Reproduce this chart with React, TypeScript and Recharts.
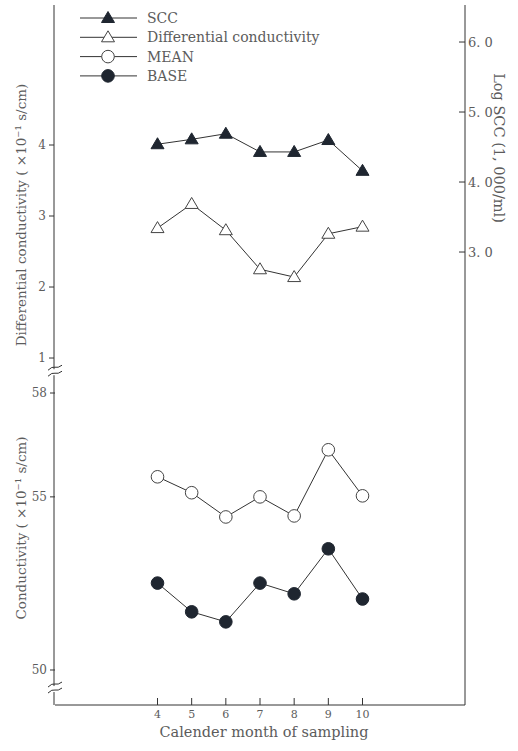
import React from "react";
import {
  ComposedChart,
  Line,
  XAxis,
  YAxis,
  Legend,
  Label,
  ReferenceDot,
} from "recharts";

const months = [4, 5, 6, 7, 8, 9, 10];
const sccLog = [4.54, 4.61, 4.69, 4.43, 4.43, 4.6, 4.16];
const diffCond = [2.83, 3.17, 2.8, 2.25, 2.14, 2.75, 2.85];
const meanCond = [55.58, 55.12, 54.42, 55.0, 54.45, 56.36, 55.03];
const baseCond = [52.51, 51.68, 51.39, 52.51, 52.2, 53.5, 52.05];

const diffTicks = [1, 2, 3, 4];
const condTicks = [50, 55, 58];
const sccTicks = [3, 4, 5, 6];
const axisBreaks = [58.6, 49.45];
const legendOrder = ["scc", "diff", "mean", "base"];

const rows = months.map((m, i) => ({
  month: m,
  scc: sccLog[i],
  diff: diffCond[i],
  mean: meanCond[i],
  base: baseCond[i],
}));

const SERIF = "'DejaVu Serif', serif";
const TEXT = "#5c5c5c";
const INK = "#333";
const DARK = "#1f2630";

type Marker = "triFill" | "triOpen" | "circOpen" | "circFill";

const markerOf: Record<string, Marker> = {
  scc: "triFill",
  diff: "triOpen",
  mean: "circOpen",
  base: "circFill",
};

function drawMarker(kind: Marker, cx: number, cy: number, key?: string | number) {
  if (kind === "triFill" || kind === "triOpen") {
    return (
      <path
        key={key}
        d={`M${cx},${cy - 6.5} L${cx + 6.5},${cy + 4.5} L${cx - 6.5},${cy + 4.5} Z`}
        fill={kind === "triFill" ? DARK : "#fff"}
        stroke={kind === "triFill" ? DARK : "#444"}
        strokeWidth={1}
      />
    );
  }
  return (
    <circle
      key={key}
      cx={cx}
      cy={cy}
      r={6.3}
      fill={kind === "circFill" ? DARK : "#fff"}
      stroke={kind === "circFill" ? DARK : "#444"}
      strokeWidth={1}
    />
  );
}

const dotFor = (kind: Marker) => (props: any) =>
  drawMarker(kind, props.cx, props.cy, `${kind}-${props.index}`);

function LegendBox({ payload }: any) {
  const items = [...(payload || [])].sort(
    (a: any, b: any) => legendOrder.indexOf(a.dataKey) - legendOrder.indexOf(b.dataKey)
  );
  return (
    <svg width={280} height={80} style={{ display: "block" }}>
      {items.map((p: any, i: number) => {
        const y = 10 + i * 19.3;
        return (
          <g key={p.value}>
            <line x1={2} x2={59} y1={y} y2={y} stroke={INK} strokeWidth={1} />
            {drawMarker(markerOf[p.dataKey], 30, y)}
            <text
              x={69}
              y={y + 5}
              fontFamily={SERIF}
              fontSize={14}
              fill={TEXT}
            >
              {p.value}
            </text>
          </g>
        );
      })}
    </svg>
  );
}

function RightTick({ x, y, payload }: any) {
  const axisX = x - 3;
  return (
    <g>
      <line x1={axisX - 6} x2={axisX} y1={y} y2={y} stroke={INK} />
      <text
        x={axisX + 3}
        y={y + 4.5}
        fontFamily={SERIF}
        fontSize={13}
        fill={TEXT}
      >
        {payload.value.toFixed(1).replace(".", ". ")}
      </text>
    </g>
  );
}

function BottomTick({ x, y, payload }: any) {
  const axisY = y - 3;
  return (
    <g>
      <line x1={x} x2={x} y1={axisY} y2={axisY - 7} stroke={INK} />
      <text
        x={x}
        y={axisY + 13}
        textAnchor="middle"
        fontFamily={SERIF}
        fontSize={11}
        fill={TEXT}
      >
        {payload.value}
      </text>
    </g>
  );
}

function BreakMark({ cx, cy }: any) {
  return (
    <g>
      <rect x={cx - 2} y={cy - 3} width={4} height={6} fill="#fff" />
      <path
        d={`M${cx - 7},${cy - 2} q4,-4 7,-3 t7,-2`}
        fill="none"
        stroke={INK}
        strokeWidth={1}
      />
      <path
        d={`M${cx - 7},${cy + 4} q4,-4 7,-3 t7,-2`}
        fill="none"
        stroke={INK}
        strokeWidth={1}
      />
    </g>
  );
}

const titleStyle = { fontFamily: SERIF, fontSize: 13.5, fill: TEXT };
const bigTitle = { fontFamily: SERIF, fontSize: 14.5, fill: TEXT };

export default function App() {
  return (
    <div style={{ position: "absolute", left: 0, top: 0, background: "#fff" }}>
      <ComposedChart
        width={518}
        height={751}
        data={rows}
        margin={{ top: 5, right: 52, bottom: 16, left: 53 }}
      >
        <XAxis
          dataKey="month"
          type="number"
          domain={[1, 13]}
          ticks={months}
          allowDataOverflow
          height={30}
          tickSize={0}
          tickMargin={3}
          tick={<BottomTick />}
          axisLine={{ stroke: INK }}
          label={
            <Label
              content={() => (
                <text x={264} y={737} textAnchor="middle" {...bigTitle}>
                  Calender month of sampling
                </text>
              )}
            />
          }
        />
        <YAxis
          yAxisId="diff"
          orientation="left"
          width={1}
          type="number"
          domain={[-3.887, 5.972]}
          ticks={diffTicks}
          allowDataOverflow
          tickSize={5}
          tickMargin={3}
          tick={{ fontFamily: SERIF, fontSize: 12, fill: TEXT }}
          tickLine={{ stroke: INK }}
          axisLine={{ stroke: INK }}
          label={
            <Label
              content={() => (
                <text
                  transform="translate(26,215) rotate(-90)"
                  textAnchor="middle"
                  {...titleStyle}
                >
                  Differential conductivity ( ×10⁻¹ s/cm)
                </text>
              )}
            />
          }
        />
        <YAxis
          yAxisId="cond"
          orientation="left"
          width={1}
          type="number"
          domain={[48.989, 69.206]}
          ticks={condTicks}
          allowDataOverflow
          tickSize={5}
          tickMargin={3}
          tick={{ fontFamily: SERIF, fontSize: 12, fill: TEXT }}
          tickLine={{ stroke: INK }}
          axisLine={false}
          label={
            <Label
              content={() => (
                <text
                  transform="translate(26,528) rotate(-90)"
                  textAnchor="middle"
                  {...titleStyle}
                >
                  Conductivity ( ×10⁻¹ s/cm)
                </text>
              )}
            />
          }
        />
        <YAxis
          yAxisId="scc"
          orientation="right"
          width={1}
          type="number"
          domain={[-3.471, 6.529]}
          ticks={sccTicks}
          allowDataOverflow
          tickSize={0}
          tickMargin={3}
          tick={<RightTick />}
          axisLine={{ stroke: INK }}
          label={
            <Label
              content={() => (
                <text
                  transform="translate(494,148) rotate(90)"
                  textAnchor="middle"
                  {...bigTitle}
                >
                  Log SCC (1, 000/ml)
                </text>
              )}
            />
          }
        />
        <Legend
          layout="vertical"
          align="center"
          verticalAlign="middle"
          wrapperStyle={{ left: 78, top: 8, width: 280, height: 80 }}
          content={<LegendBox />}
        />
        <Line
          yAxisId="scc"
          dataKey="scc"
          name="SCC"
          type="linear"
          stroke={INK}
          strokeWidth={1}
          dot={dotFor("triFill")}
          activeDot={false}
          isAnimationActive={false}
        />
        <Line
          yAxisId="diff"
          dataKey="diff"
          name="Differential conductivity"
          type="linear"
          stroke={INK}
          strokeWidth={1}
          dot={dotFor("triOpen")}
          activeDot={false}
          isAnimationActive={false}
        />
        <Line
          yAxisId="cond"
          dataKey="mean"
          name="MEAN"
          type="linear"
          stroke={INK}
          strokeWidth={1}
          dot={dotFor("circOpen")}
          activeDot={false}
          isAnimationActive={false}
        />
        <Line
          yAxisId="cond"
          dataKey="base"
          name="BASE"
          type="linear"
          stroke={INK}
          strokeWidth={1}
          dot={dotFor("circFill")}
          activeDot={false}
          isAnimationActive={false}
        />
        {axisBreaks.map((v) => (
          <ReferenceDot
            key={v}
            yAxisId="cond"
            x={1}
            y={v}
            ifOverflow="visible"
            shape={<BreakMark />}
          />
        ))}
      </ComposedChart>
    </div>
  );
}
